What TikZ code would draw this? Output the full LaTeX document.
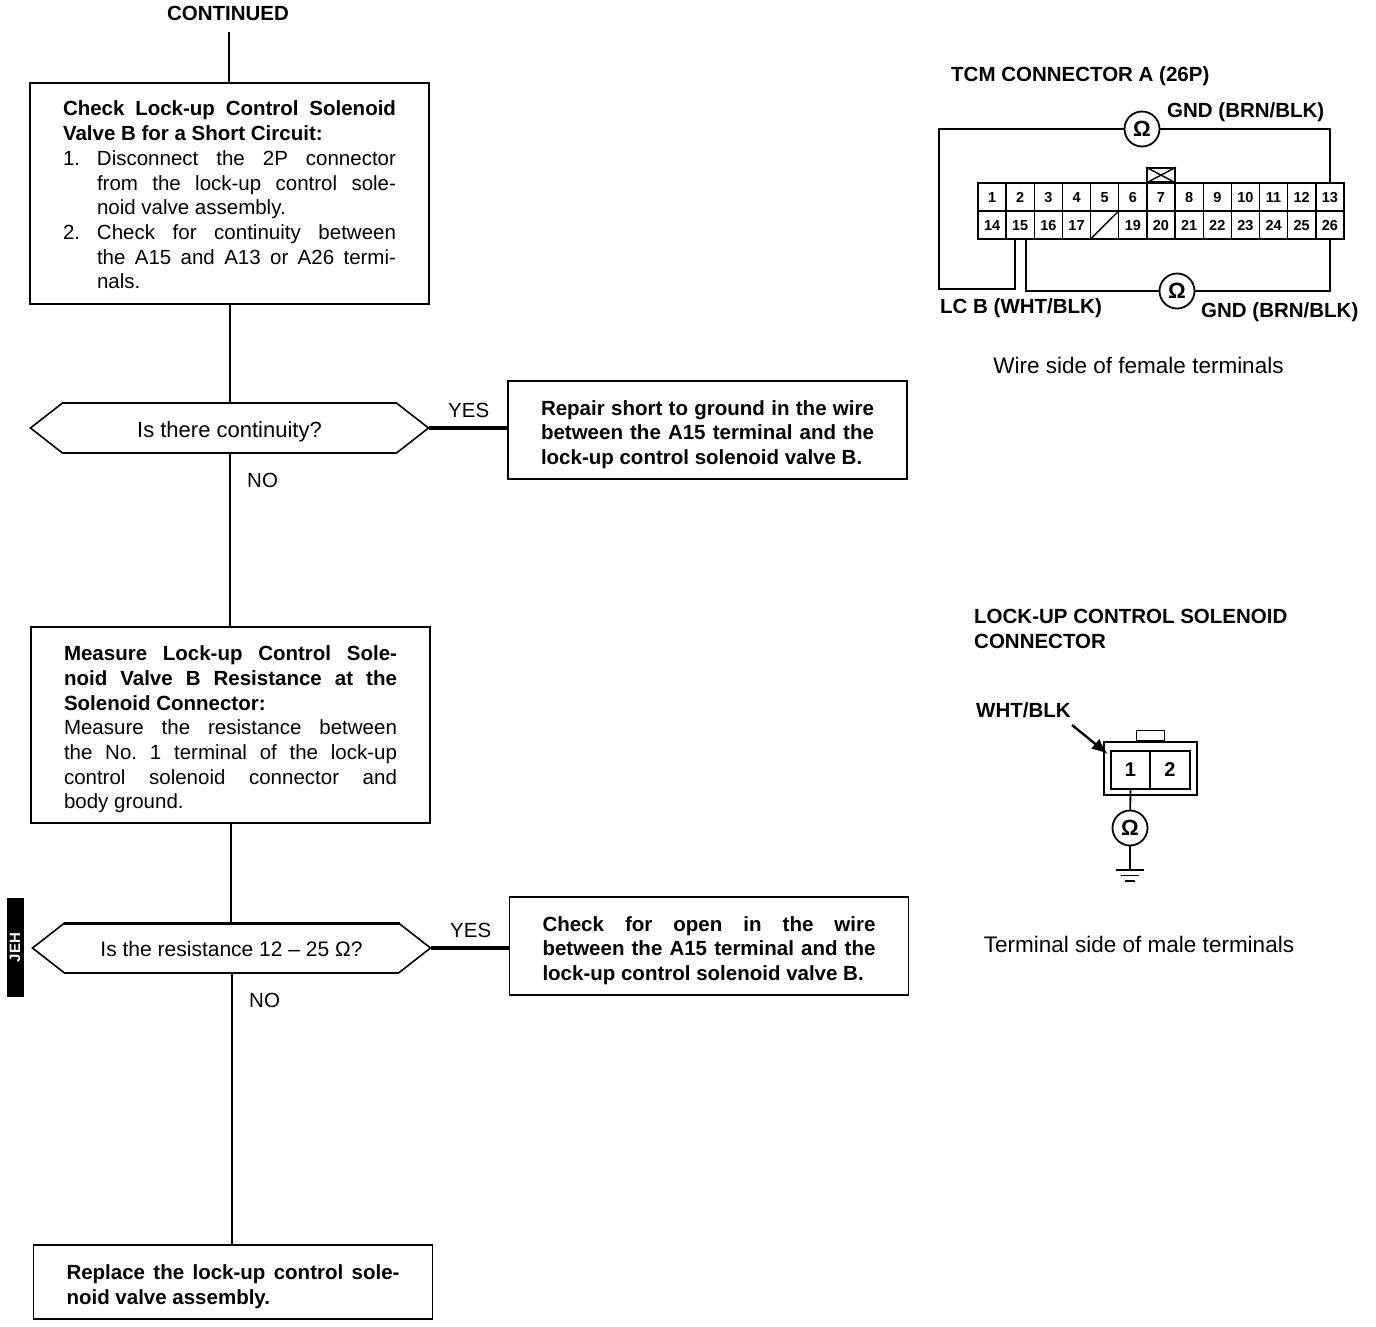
\documentclass[tikz,border=0pt]{standalone}
\usepackage{fontspec}
\setmainfont{Liberation Sans}
\usetikzlibrary{positioning,shapes.symbols,arrows.meta}

\tikzset{
  plainbox/.style={draw, line width=1.6pt, rectangle, text width=333pt, inner xsep=33pt, inner ysep=0pt,
    outer sep=0pt, align=justify, font=\fontsize{20.5}{24.7}\selectfont\frenchspacing},
  stepbox/.style={plainbox, execute at begin node={\rule{0pt}{24pt}}},
  result/.style={stepbox, font=\fontsize{20.5}{24.7}\selectfont\bfseries\frenchspacing},
  decision/.style={draw, line width=1.6pt, signal, signal to=west and east, signal pointer angle=76,
    minimum width=398pt, minimum height=50pt, inner sep=0pt, outer sep=0pt,
    font=\fontsize{22}{24.7}\selectfont},
  flow/.style={line width=2pt},
  yesflow/.style={line width=3.2pt},
  tag/.style={inner sep=0pt, font=\fontsize{20.5}{24.7}\selectfont},
  boldtag/.style={tag, font=\fontsize{20.5}{24.7}\selectfont\bfseries},
  note/.style={inner sep=0pt, font=\fontsize{22.5}{24.7}\selectfont},
  cell/.style={draw, line width=1.4pt, minimum width=28.15pt, minimum height=28pt, inner sep=0pt,
    outer sep=0pt, text height=10pt, text depth=0pt, font=\fontsize{14.5}{16}\selectfont\bfseries},
  pin/.style={draw, line width=1.6pt, minimum width=39.5pt, minimum height=38pt, inner sep=0pt,
    outer sep=0pt, font=\fontsize{20}{22}\selectfont\bfseries},
  meter/.style={draw, circle, line width=1.8pt, minimum size=35pt, inner sep=0pt, fill=white,
    font=\fontsize{22}{24}\selectfont\bfseries},
  wire/.style={line width=1.8pt}
}
\newcommand{\numline}[2]{\par\noindent\hangindent=34pt\hangafter=1\makebox[34pt][l]{#1}#2\par}

\begin{document}
\begin{tikzpicture}[x=1pt, y=-1pt]
    \useasboundingbox (0,0) rectangle (1376,1326);

    \node [boldtag] (continued) at (228,13) {CONTINUED};
    \coordinate (start) at (229,32);

    \node [plainbox, minimum height=221pt, execute at begin node={\rule{0pt}{18pt}}] (checkshort) at (229.5,193.5) {%
      \textbf{Check Lock-up Control Solenoid\linebreak Valve B for a Short Circuit:}
      \numline{1.}{Disconnect the 2P connector\linebreak from the lock-up control sole-\linebreak noid valve assembly.}%
      \numline{2.}{Check for continuity between\linebreak the A15 and A13 or A26 termi-\linebreak nals.}};
    \node [decision, below=99pt of checkshort] (continuity) {\rule{0pt}{23pt}Is there continuity?};
    \node [result, minimum height=98pt, right=79.5pt of continuity, yshift=-2pt] (repair) {%
      Repair short to ground in the wire\linebreak between the A15 terminal and the\linebreak lock-up control solenoid valve B.};
    \node [stepbox, minimum height=196pt, below=174pt of continuity, xshift=1pt] (measure) {%
      \textbf{Measure Lock-up Control Sole-\linebreak noid Valve B Resistance at the\linebreak Solenoid Connector:}\par\noindent
      Measure the resistance between\linebreak the No. 1 terminal of the lock-up\linebreak control solenoid connector and\linebreak body ground.};
    \node [decision, below=100pt of measure, xshift=1pt, font=\fontsize{21}{24.7}\selectfont] (resistance) {\rule{0pt}{18pt}Is the resistance 12 – 25 Ω?};
    \node [result, minimum height=98pt, right=79pt of resistance, yshift=2pt] (openwire) {%
      Check for open in the wire\linebreak between the A15 terminal and the\linebreak lock-up control solenoid valve B.};
    \node [result, minimum height=74pt, below=272pt of resistance, xshift=1.5pt] (replace) {%
      Replace the lock-up control sole-\linebreak noid valve assembly.};

    \draw [flow] (start) -- (checkshort.north -| start);
    \draw [flow] (checkshort.south) -- (continuity.north);
    \draw [flow] (continuity.south) -- (continuity.south |- measure.north);
    \draw [flow] (measure.south) -- (measure.south |- resistance.north);
    \draw [flow] (resistance.south) -- (resistance.south |- replace.north);
    \draw [yesflow] (continuity.east) -- (continuity.east -| repair.west);
    \draw [yesflow] (resistance.east) -- (resistance.east -| openwire.west);
    \draw [line width=2.8pt] (checkshort.south west) -- (checkshort.south east);
    \draw [line width=3pt] ([xshift=-168pt]resistance.north) -- ([xshift=168pt]resistance.north);

    \node [tag, anchor=west] (yesa) at (448,410) {YES};
    \node [tag, anchor=west] (noa) at (247,480) {NO};
    \node [tag, anchor=west] (yesb) at (450,930) {YES};
    \node [tag, anchor=west] (nob) at (249,1000) {NO};

    \node [fill=black, text=white, rotate=90, minimum width=99pt, minimum height=17pt, inner sep=0pt,
      font=\fontsize{15}{16}\selectfont\bfseries] (sidetab) at (15,947.5) {JEH};

    % TCM connector
    \node [boldtag, anchor=west] (tcmtitle) at (951,76) {TCM CONNECTOR A (26P)};
    \foreach \n in {1,...,13} {
      \node [cell] (c\n) at ({978+28.15*(\n-0.5)},197) {\n};
    }
    \foreach \n [count=\i] in {14,...,26} {
      \node [cell] (c\n) at ({978+28.15*(\i-0.5)},225) {\ifnum\n=18 \else\n\fi};
    }
    \draw [line width=1.4pt] (c18.south west) -- (c18.north east);
    \draw [line width=2.4pt] (c1.north west) rectangle (c26.south east);
    \node [draw, line width=1.8pt, minimum width=28pt, minimum height=14pt, inner sep=0pt,
      above=0pt of c7] (lockA) {};
    \draw [line width=1.4pt] (lockA.north west) -- (lockA.south east);
    \draw [line width=1.4pt] (lockA.south west) -- (lockA.north east);

    \node [meter] (ohmA) at (1142,129) {Ω};
    \node [meter] (ohmB) at (1177,291) {Ω};
    \coordinate (wiretop) at (939,129);
    \coordinate (wirebot) at (939,289);
    \draw [wire] (ohmA) -- (wiretop) -- (wirebot) -| ([xshift=-5pt]c15.south);
    \draw [wire] (ohmA) -| (c13.north);
    \draw [wire] ([xshift=6pt]c15.south) |- (ohmB);
    \draw [wire] (ohmB) -| (c26.south);

    \node [boldtag, anchor=west] (gndtop) at (1167,112) {GND (BRN/BLK)};
    \node [boldtag, anchor=west] (lcb) at (940,308) {LC B (WHT/BLK)};
    \node [boldtag, anchor=west] (gndbot) at (1201,312) {GND (BRN/BLK)};
    \node [note] (wireside) at (1138.5,365) {Wire side of female terminals};

    % solenoid connector
    \node [boldtag, anchor=north west, align=left] (soltitle) at (974,609) {LOCK-UP CONTROL SOLENOID\\CONNECTOR};
    \node [boldtag, anchor=west] (whtblk) at (976,710) {WHT/BLK};
    \node [draw, line width=1.8pt, minimum width=93pt, minimum height=53pt] (solbody) at (1150.5,768.5) {};
    \node [draw, line width=1.6pt, minimum width=28pt, minimum height=10pt, inner sep=0pt, anchor=south] (soltab) at (solbody.north) {};
    \node [pin] (pinone) at (1130.5,770) {1};
    \node [pin, right=0pt of pinone] (pintwo) {2};
    \coordinate (arrowstart) at (1072,725);
    \draw [-{Latex[length=16pt,width=13pt]}, line width=2.4pt] (arrowstart) -- ([xshift=-3pt,yshift=-3pt]pinone.north west);

    \node [meter] (ohmC) at (1130,828) {Ω};
    \coordinate (ground) at (1130,870);
    \draw [wire] (pinone.south) -- (ohmC);
    \draw [wire] (ohmC) -- (ground);
    \draw [wire] ([xshift=-14pt]ground) -- ([xshift=14pt]ground);
    \draw [wire] ([xshift=-9pt,yshift=-5.5pt]ground) -- ([xshift=9pt,yshift=-5.5pt]ground);
    \draw [wire] ([xshift=-5pt,yshift=-11pt]ground) -- ([xshift=5pt,yshift=-11pt]ground);

    \node [note] (termside) at (1139,944) {Terminal side of male terminals};
\end{tikzpicture}
\end{document}
